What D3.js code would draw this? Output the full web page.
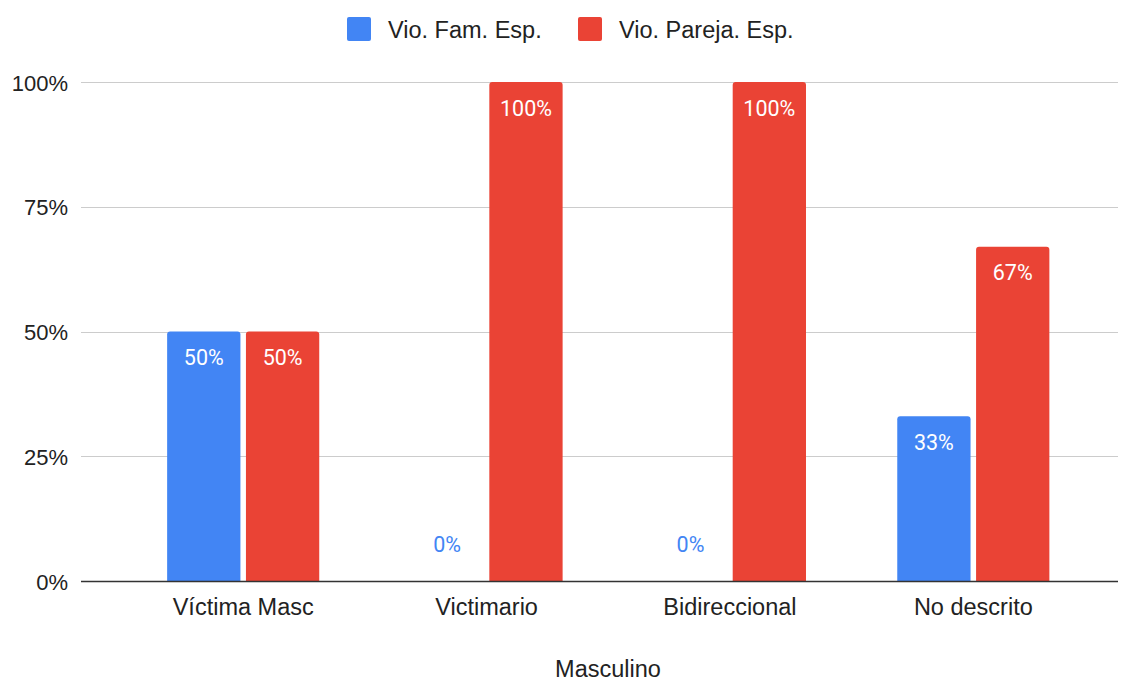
<!DOCTYPE html>
<html>
<head>
<meta charset="utf-8">
<script src="https://cdn.jsdelivr.net/npm/d3@7"></script>
<style>
  html, body { margin: 0; padding: 0; background: #fff; }
  svg { display: block; font-family: "Liberation Sans", Arial, sans-serif; }
</style>
</head>
<body>
<svg id="chart" width="1128" height="679"></svg>
<script>
// Categories, series and values (fractions of 1)
const categories = ["Víctima Masc", "Victimario", "Bidireccional", "No descrito"];
const seriesNames = ["Vio. Fam. Esp.", "Vio. Pareja. Esp."];
const famValues = [0.50, 0.00, 0.00, 0.33];
const parejaValues = [0.50, 1.00, 1.00, 0.67];
const yTicks = [0, 0.25, 0.5, 0.75, 1];
const seriesColors = ["#4285F4", "#EA4335"];
const xTitle = "Masculino";

const rows = categories.map((c, i) => ({
  cat: c,
  vals: [famValues[i], parejaValues[i]]
}));

const svg = d3.select("#chart");
const gridLeft = 81, gridRight = 1118;
const y0 = 581, y1 = 82;

const x0 = d3.scaleBand().domain(categories).range([121.5, 1095])
  .paddingInner(0.375).paddingOuter(0.1875);
const x1 = d3.scaleBand().domain(d3.range(seriesNames.length))
  .range([0, x0.bandwidth()]).paddingInner(0.07);
const y = d3.scaleLinear().domain([0, 1]).range([y0, y1]);
const pct = d3.format(".0%");

// Horizontal gridlines
svg.append("g").selectAll("line").data(yTicks.filter(t => t > 0)).join("line")
  .attr("x1", gridLeft).attr("x2", gridRight)
  .attr("y1", d => Math.round(y(d)) + 0.5).attr("y2", d => Math.round(y(d)) + 0.5)
  .attr("stroke", "#cccccc").attr("stroke-width", 1);

// Y tick labels
svg.append("g").selectAll("text").data(yTicks).join("text")
  .attr("x", 68).attr("y", d => y(d) + 8.5)
  .attr("text-anchor", "end")
  .attr("font-size", 22).attr("fill", "#222")
  .text(d => pct(d));

// Bars
const groups = svg.append("g").selectAll("g").data(rows).join("g")
  .attr("transform", d => `translate(${x0(d.cat)},0)`);

function barPath(x, w, top, bottom, r) {
  const h = bottom - top;
  if (h <= 0) return "";
  r = Math.min(r, h, w / 2);
  return `M${x},${bottom}V${top + r}Q${x},${top} ${x + r},${top}H${x + w - r}Q${x + w},${top} ${x + w},${top + r}V${bottom}Z`;
}

groups.selectAll("path").data(d => d.vals.map((v, i) => ({ v, i }))).join("path")
  .attr("d", d => barPath(x1(d.i), x1.bandwidth(), y(d.v), y0, 3))
  .attr("fill", d => seriesColors[d.i]);

// Value labels
groups.selectAll("text").data(d => d.vals.map((v, i) => ({ v, i }))).join("text")
  .attr("x", d => x1(d.i) + x1.bandwidth() / 2)
  .attr("y", d => d.v > 0 ? y(d.v) + 33.5 : y0 - 29)
  .attr("text-anchor", "middle")
  .attr("font-family", "Roboto, 'Noto Sans', sans-serif")
  .attr("font-size", 21.5)
  .attr("fill", d => d.v > 0 ? "#ffffff" : seriesColors[d.i])
  .text(d => pct(d.v));

// Baseline
svg.append("line")
  .attr("x1", gridLeft).attr("x2", gridRight)
  .attr("y1", y0 + 0.5).attr("y2", y0 + 0.5)
  .attr("stroke", "#333333").attr("stroke-width", 1.5);

// Category labels
svg.append("g").selectAll("text").data(categories).join("text")
  .attr("x", d => x0(d) + x0.bandwidth() / 2).attr("y", 615)
  .attr("text-anchor", "middle")
  .attr("font-size", 23.5).attr("fill", "#222")
  .text(d => d);

// Axis title
svg.append("text")
  .attr("x", 608).attr("y", 677)
  .attr("text-anchor", "middle").attr("font-size", 23.5).attr("fill", "#222")
  .text(xTitle);

// Legend
const legendX = [347, 578];
const legend = svg.append("g").selectAll("g").data(seriesNames).join("g")
  .attr("transform", (d, i) => `translate(${legendX[i]},17)`);
legend.append("rect").attr("width", 24).attr("height", 24).attr("rx", 2)
  .attr("fill", (d, i) => seriesColors[i]);
legend.append("text").attr("x", 41).attr("y", 20.5)
  .attr("font-size", 23.5).attr("fill", "#222").text(d => d);
</script>
</body>
</html>
